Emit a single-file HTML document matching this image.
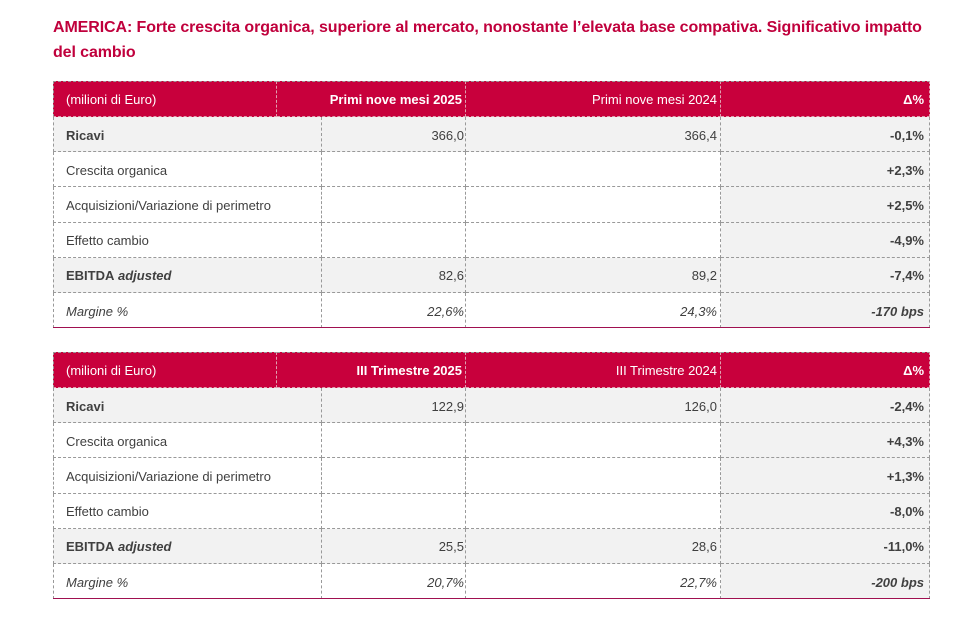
<!DOCTYPE html>
<html><head><meta charset="utf-8"><style>
body{margin:0;width:972px;height:625px;background:#fff;position:relative;font-family:"Liberation Sans",sans-serif;overflow:hidden}
.t{position:absolute;left:53px;color:#c0003c;font-weight:bold;font-size:16px;white-space:nowrap;letter-spacing:-0.1px}
.c{position:absolute;box-sizing:border-box;font-size:13px;color:#404040;white-space:nowrap;display:flex;align-items:center;padding:2px 3px 0 12px;border-right:1px dashed #999;border-bottom:1px dashed #999}
.h{background:#c8003c;color:#fff;border-color:#e0a0b0;border-top:1px dashed #999;padding-top:0}
.r{justify-content:flex-end}
.g{background:#f2f2f2}
.b{font-weight:bold}.i{font-style:italic}
.line{position:absolute;left:53px;width:877px;height:1px;background:#a01050}
</style></head><body>
<div class="t" style="top:19px">AMERICA: Forte crescita organica, superiore al mercato, nonostante l’elevata base compativa. Significativo impatto</div>
<div class="t" style="top:44px">del cambio</div>
<div id="a"></div>
<script>
function tbl(y0,h1,h2,rows){
 let s='';
 const H=36,R=35.2;
 s+=`<div class="c h" style="left:53px;top:${y0}px;width:224px;height:${H}px;border-left:1px dashed #999">(milioni di Euro)</div>`;
 s+=`<div class="c h r b" style="left:277px;top:${y0}px;width:189px;height:${H}px">${h1}</div>`;
 s+=`<div class="c h r" style="left:466px;top:${y0}px;width:255px;height:${H}px">${h2}</div>`;
 s+=`<div class="c h r b" style="left:721px;top:${y0}px;width:209px;height:${H}px;padding-right:5px">Δ%</div>`;
 rows.forEach((r,k)=>{
  const y=y0+H+k*R, gr=r[4]?' g':'', st=r[5]||'';
  s+=`<div class="c${gr} ${st}" style="left:53px;top:${y}px;width:269px;height:${R}px;border-left:1px dashed #999">${r[0]}</div>`;
  s+=`<div class="c r${gr} ${st.replace('b','')}" style="left:322px;top:${y}px;width:144px;height:${R}px;padding-right:1px">${r[1]}</div>`;
  s+=`<div class="c r${gr} ${st.replace('b','')}" style="left:466px;top:${y}px;width:255px;height:${R}px">${r[2]}</div>`;
  s+=`<div class="c r g b ${st.includes('i')?'i':''}" style="left:721px;top:${y}px;width:209px;height:${R}px;padding-right:5px">${r[3]}</div>`;
 });
 s+=`<div class="line" style="top:${Math.round(y0+H+rows.length*R-1)}px"></div>`;
 return s;
}
document.getElementById('a').innerHTML=
tbl(81,'Primi nove mesi 2025','Primi nove mesi 2024',[
['Ricavi','366,0','366,4','-0,1%',1,'b'],
['Crescita organica','','','+2,3%',0,''],
['Acquisizioni/Variazione di perimetro','','','+2,5%',0,''],
['Effetto cambio','','','-4,9%',0,''],
['EBITDA&nbsp;<i>adjusted</i>','82,6','89,2','-7,4%',1,'b'],
['Margine %','22,6%','24,3%','-170 bps',0,'i']])+
tbl(352,'III Trimestre 2025','III Trimestre 2024',[
['Ricavi','122,9','126,0','-2,4%',1,'b'],
['Crescita organica','','','+4,3%',0,''],
['Acquisizioni/Variazione di perimetro','','','+1,3%',0,''],
['Effetto cambio','','','-8,0%',0,''],
['EBITDA&nbsp;<i>adjusted</i>','25,5','28,6','-11,0%',1,'b'],
['Margine %','20,7%','22,7%','-200 bps',0,'i']]);
</script>
</body></html>
